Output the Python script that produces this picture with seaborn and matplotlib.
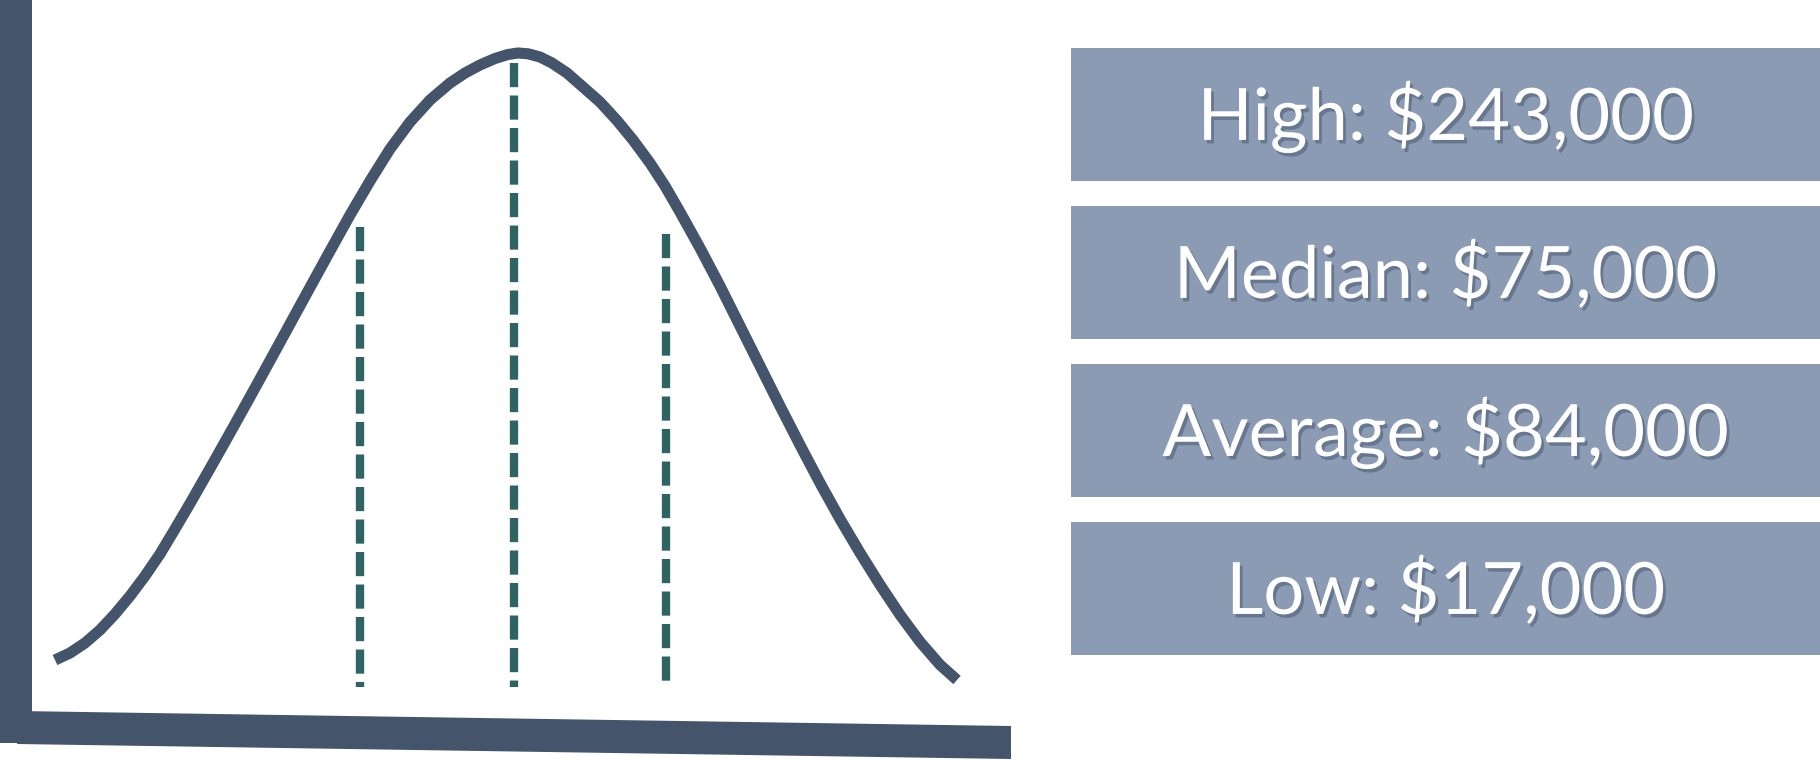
import matplotlib
matplotlib.use("Agg")
import matplotlib.pyplot as plt
import matplotlib.patheffects as pe
from matplotlib.patches import Polygon, Rectangle
import seaborn as sns

curve_x = [55, 70, 85, 100, 115, 130, 145, 160, 175, 190, 210, 230, 250, 270,
           290, 310, 330, 350, 370, 390, 410, 430, 450, 465, 480, 495, 508,
           518, 528, 540, 552, 567, 583, 600, 617, 633, 650, 665, 680, 700,
           720, 740, 760, 780, 800, 820, 840, 860, 880, 900, 920, 940, 957]
curve_y = [660, 653, 643, 630, 614, 596, 576, 554, 529, 503.5, 468.5, 433, 397,
           360.6, 324, 287.4, 251, 215, 181, 149, 122, 100, 83, 73, 65, 58.5,
           54.5, 53, 53.8, 57, 63, 73, 87, 102, 120.5, 140, 163, 186, 212, 248,
           286, 326, 366, 406, 445, 483, 519, 552.8, 584.8, 614.8, 641.8,
           664.8, 680]

# dashed markers: x position and top, all reaching down to the same base
marker_x = [360, 514, 666]
marker_top = [227, 63, 234]
marker_base = 687

# summary boxes
labels = ["High: $243,000", "Median: $75,000", "Average: $84,000", "Low: $17,000"]
bar_len = [1, 1, 1, 1]

dark = "#44546A"
teal = "#306464"
box_col = "#8A9BB3"

sns.set_theme(style="white")
plt.rcParams["font.family"] = ["Lato", "DejaVu Sans"]

fig = plt.figure(figsize=(18.2, 7.6), dpi=100)
fig.patch.set_facecolor("white")

# left drawing area, y runs downward like the picture
ax = fig.add_axes([0, 0, 1, 1])
ax.set_xlim(0, 1820)
ax.set_ylim(760, 0)
ax.axis("off")

# thick hand-drawn style axes
ax.add_patch(Rectangle((0, 0), 32, 743, color=dark, lw=0))
ax.add_patch(Polygon([(17, 711), (1011, 726), (1011, 759), (17, 744)],
                     closed=True, color=dark, lw=0))

sns.lineplot(x=curve_x, y=curve_y, sort=False, estimator=None, color=dark,
             linewidth=8, solid_capstyle="butt", solid_joinstyle="round", ax=ax)

for mx, top in zip(marker_x, marker_top):
    ax.plot([mx, mx], [top, marker_base], color=teal, linewidth=6,
            linestyle=(0, (2.9, 1.0)), dash_capstyle="butt")

# right-hand boxes as a horizontal bar chart
ax2 = fig.add_axes([1071 / 1820, 1 - 667.5 / 760, 749 / 1820, 632 / 760])
sns.barplot(x=bar_len, y=labels, orient="h", color=box_col, saturation=1,
            width=133 / 158, linewidth=0, ax=ax2)
ax2.set_xlim(0, 1)
ax2.set_ylim(3.5, -0.5)
ax2.axis("off")
ax2.patch.set_alpha(0)

for i, lab in enumerate(labels):
    ax2.text(0.5, i + 0.161, lab, ha="center", va="baseline", fontsize=52,
             color="white",
             path_effects=[pe.withSimplePatchShadow(offset=(2, -2.5),
                                                    shadow_rgbFace="#33415a",
                                                    alpha=0.4)])

fig.savefig("out.png", dpi=100)
